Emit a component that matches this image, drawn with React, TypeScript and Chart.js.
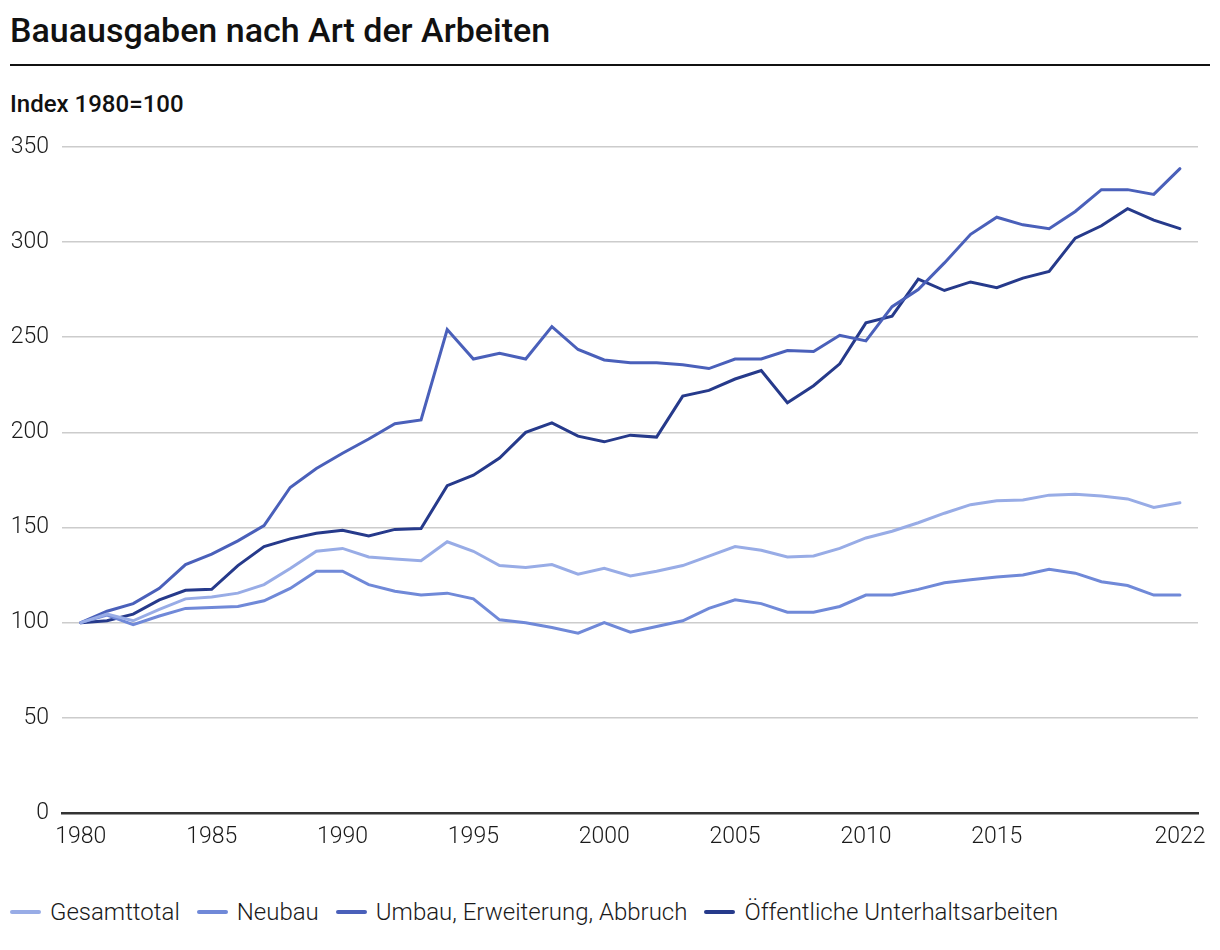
import React, { useEffect, useRef } from "react";
import { Chart, registerables } from "chart.js";

Chart.register(...registerables);

const years = [
  1980, 1981, 1982, 1983, 1984, 1985, 1986, 1987, 1988, 1989,
  1990, 1991, 1992, 1993, 1994, 1995, 1996, 1997, 1998, 1999,
  2000, 2001, 2002, 2003, 2004, 2005, 2006, 2007, 2008, 2009,
  2010, 2011, 2012, 2013, 2014, 2015, 2016, 2017, 2018, 2019,
  2020, 2021, 2022,
];

const gesamttotal = [
  100, 104.5, 101, 107, 112.5, 113.5, 115.5, 120, 128.5, 137.5,
  139, 134.5, 133.5, 132.5, 142.5, 137.5, 130, 129, 130.5, 125.5,
  128.5, 124.5, 127, 130, 135, 140, 138, 134.5, 135, 139,
  144.5, 148, 152.5, 157.5, 162, 164, 164.5, 167, 167.5, 166.5,
  165, 160.5, 163,
];

const neubau = [
  100, 104, 99, 103.5, 107.5, 108, 108.5, 111.5, 118, 127,
  127, 120, 116.5, 114.5, 115.5, 112.5, 101.5, 100, 97.5, 94.5,
  100, 95, 98, 101, 107.5, 112, 110, 105.5, 105.5, 108.5,
  114.5, 114.5, 117.5, 121, 122.5, 124, 125, 128, 126, 121.5,
  119.5, 114.5, 114.5,
];

const umbau = [
  100, 106, 110, 118, 130.5, 136, 143, 151, 171, 181,
  189, 196.5, 204.5, 206.5, 254, 238.5, 241.5, 238.5, 255.5, 243.5,
  238, 236.5, 236.5, 235.5, 233.5, 238.5, 238.5, 243, 242.5, 251,
  248, 266, 275, 289, 304, 313, 309, 307, 316, 327.5,
  327.5, 325, 338.5,
];

const oeffentliche = [
  100, 101, 104.5, 112, 117, 117.5, 130, 140, 144, 147,
  148.5, 145.5, 149, 149.5, 172, 177.5, 186.5, 200, 205, 198,
  195, 198.5, 197.5, 219, 222, 228, 232.5, 215.5, 224.5, 236,
  257.5, 261, 280.5, 274.5, 279, 276, 281, 284.5, 302, 308.5,
  317.5, 311.5, 307,
];

const seriesLabels = [
  "Gesamttotal",
  "Neubau",
  "Umbau, Erweiterung, Abbruch",
  "Öffentliche Unterhaltsarbeiten",
];
const seriesColors = ["#98ACE6", "#7089D8", "#4A60BA", "#263A8B"];
const seriesValues = [gesamttotal, neubau, umbau, oeffentliche];

const xTickYears = [1980, 1985, 1990, 1995, 2000, 2005, 2010, 2015, 2022];
const yTicks = [0, 50, 100, 150, 200, 250, 300, 350];

const FONT = "Roboto, 'Noto Sans', sans-serif";

export default function App() {
  const canvasRef = useRef<HTMLCanvasElement | null>(null);

  useEffect(() => {
    const canvas = canvasRef.current;
    if (!canvas) return;
    const chart = new Chart(canvas, {
      type: "line",
      data: {
        datasets: seriesLabels.map((label, i) => ({
          label,
          data: years.map((y, j) => ({ x: y, y: seriesValues[i][j] })),
          borderColor: seriesColors[i],
          backgroundColor: seriesColors[i],
          borderWidth: 3,
          pointRadius: 0,
          pointHoverRadius: 0,
          tension: 0,
          fill: false,
          borderCapStyle: "round",
          borderJoinStyle: "miter",
        })),
      },
      options: {
        responsive: false,
        animation: false,
        layout: { padding: { top: 24, right: 22, left: 0, bottom: 0 } },
        plugins: {
          legend: { display: false },
          tooltip: { enabled: false },
        },
        scales: {
          x: {
            type: "linear",
            min: 1979.28,
            max: 2022.69,
            afterBuildTicks: (scale: any) => {
              scale.ticks = xTickYears.map((v) => ({ value: v }));
            },
            afterFit: (scale: any) => {
              scale.height = 47;
            },
            grid: { display: false, drawTicks: false },
            border: { display: true, color: "#333333", width: 2.5 },
            ticks: {
              autoSkip: false,
              maxRotation: 0,
              padding: 10,
              color: "#1a1a1a",
              font: { family: FONT, size: 23, weight: "300" },
              callback: (v: any) => String(v),
            },
          },
          y: {
            min: 0,
            max: 350,
            afterBuildTicks: (scale: any) => {
              scale.ticks = yTicks.map((v) => ({ value: v }));
            },
            afterFit: (scale: any) => {
              scale.width = 62;
            },
            grid: { color: "#cccccc", lineWidth: 1.5, drawTicks: false },
            border: { display: false },
            ticks: {
              padding: 13,
              color: "#1a1a1a",
              font: { family: FONT, size: 23, weight: "300" },
            },
          },
        },
      },
    });
    return () => chart.destroy();
  }, []);

  return (
    <div
      style={{
        position: "absolute",
        left: 0,
        top: 0,
        width: 1220,
        height: 950,
        background: "#ffffff",
        fontFamily: FONT,
        color: "#111111",
      }}
    >
      <div
        style={{
          position: "absolute",
          left: 10,
          top: 10,
          fontSize: 34,
          fontWeight: 500,
          lineHeight: "40px",
          whiteSpace: "nowrap",
        }}
      >
        Bauausgaben nach Art der Arbeiten
      </div>
      <div
        style={{
          position: "absolute",
          left: 10,
          top: 64,
          width: 1200,
          height: 2,
          background: "#111111",
        }}
      />
      <div
        style={{
          position: "absolute",
          left: 10,
          top: 90,
          fontSize: 24,
          fontWeight: 500,
          lineHeight: "28px",
          whiteSpace: "nowrap",
        }}
      >
        Index 1980=100
      </div>
      <canvas
        ref={canvasRef}
        width={1220}
        height={740}
        style={{ position: "absolute", left: 0, top: 120, width: 1220, height: 740 }}
      />
      <div
        style={{
          position: "absolute",
          left: 10,
          top: 897,
          display: "flex",
          alignItems: "center",
          fontSize: 24,
          fontWeight: 300,
          color: "#1a1a1a",
          whiteSpace: "nowrap",
          lineHeight: "30px",
        }}
      >
        {seriesLabels.map((label, i) => (
          <div
            key={label}
            style={{ display: "flex", alignItems: "center", marginRight: 17 }}
          >
            <span
              style={{
                display: "inline-block",
                width: 31,
                height: 4.5,
                borderRadius: 2.25,
                background: seriesColors[i],
                marginRight: 9,
              }}
            />
            <span>{label}</span>
          </div>
        ))}
      </div>
    </div>
  );
}
